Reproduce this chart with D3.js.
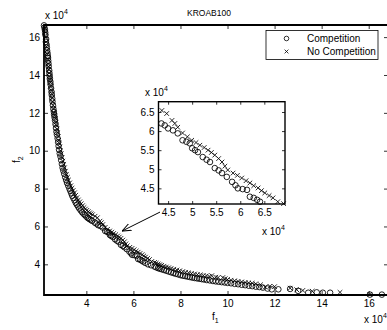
<!DOCTYPE html>
<html>
<head>
<meta charset="utf-8">
<script src="https://cdn.jsdelivr.net/npm/d3@7"></script>
<style>
  body { margin: 0; background: #fff; }
  svg { display: block; font-family: "Liberation Sans", Arial, sans-serif; }
</style>
</head>
<body>
<svg id="chart" width="387" height="330"></svg>
<script>
// values in units of 10^4
var competition = [
  [2.20,16.62],[2.24,16.38],[2.26,16.12],[2.29,15.9],[2.31,15.6],[2.33,15.3],[2.36,15.0],[2.38,14.75],
  [2.40,14.45],[2.43,14.1],[2.45,13.8],[2.48,13.5],[2.50,13.3],[2.53,12.95],[2.56,12.6],[2.60,12.2],
  [2.63,11.9],[2.67,11.6],[2.71,11.2],[2.75,10.85],[2.80,10.45],[2.84,10.05],[2.90,9.7],[2.96,9.3],
  [3.02,8.95],[3.10,8.6],[3.18,8.3],[3.28,8.0],[3.36,7.75],[3.45,7.5],[3.55,7.25],[3.65,7.05],
  [3.76,6.85],[3.88,6.67],[4.00,6.52],[4.12,6.4],[4.24,6.3],[4.36,6.2],[4.43,6.15],[4.50,6.07],
  [4.60,6.02],[4.70,5.94],[4.80,5.76],[4.88,5.72],[4.95,5.68],[5.00,5.55],[5.06,5.5],[5.12,5.45],
  [5.22,5.32],[5.30,5.25],[5.37,5.19],[5.47,5.03],[5.55,4.97],[5.62,4.9],[5.72,4.8],[5.83,4.67],
  [5.90,4.58],[5.95,4.5],[6.05,4.48],[6.14,4.46],[6.20,4.28],[6.28,4.25],[6.35,4.2],[6.41,4.15],
  [6.50,4.08],[6.62,4.0],[6.75,3.95],[6.90,3.88],[7.05,3.8],[7.20,3.74],[7.40,3.66],[7.60,3.58],
  [7.80,3.5],[8.00,3.43],[8.20,3.38],[8.40,3.33],[8.60,3.28],[8.80,3.24],[9.00,3.2],[9.25,3.15],
  [9.50,3.1],[9.75,3.06],[10.0,3.02],[10.3,2.97],[10.6,2.92],[10.9,2.87],[11.2,2.82],[11.5,2.77],
  [11.88,2.68],[12.16,2.68],[12.66,2.7],[13.0,2.6],[13.43,2.5],[13.79,2.52],[14.05,2.5],[14.36,2.5],
  [16.05,2.4],[16.56,2.4],
  [2.22,16.5],[2.25,16.25],[2.28,15.75],[2.32,15.45],[2.35,15.15],[2.37,14.9],[2.39,14.6],[2.42,14.25],
  [2.44,13.95],[2.47,13.65],[2.52,13.1],[2.55,12.75],[2.58,12.4],[2.62,12.05],[2.65,11.75],[2.69,11.4],
  [2.73,11.0],[2.78,10.65],[2.82,10.25],[2.87,9.85],[2.93,9.5],[2.99,9.1],[3.06,8.78],[3.14,8.45],
  [3.23,8.15],[3.32,7.88],[3.40,7.62],[3.50,7.38],[3.60,7.15],[3.70,6.95],[3.82,6.75],[3.94,6.6],
  [4.06,6.45],[4.18,6.35],
  [6.97,3.84],[7.12,3.77],[7.30,3.7],[7.50,3.62],[7.70,3.54],
  [7.90,3.47],[8.10,3.4],[8.30,3.35],[8.50,3.3],[8.70,3.26],[8.90,3.22],[9.12,3.17],[9.38,3.12],
  [9.62,3.08],[9.88,3.04],[10.15,3.0],[10.45,2.95],[10.75,2.9],[11.05,2.85],[11.35,2.8],[11.7,2.72]
];
var noCompetition = [
  [2.23,16.5],[2.27,16.0],[2.30,15.5],[2.34,15.1],[2.37,14.6],[2.40,14.3],[2.44,13.9],[2.47,13.6],
  [2.51,13.2],[2.55,12.8],[2.59,12.4],[2.63,12.0],[2.68,11.7],[2.72,11.35],[2.77,10.95],[2.82,10.55],
  [2.87,10.2],[2.93,9.85],[3.00,9.45],[3.07,9.1],[3.15,8.75],[3.24,8.45],[3.34,8.15],[3.44,7.9],
  [3.55,7.65],[3.66,7.4],[3.78,7.2],[3.90,7.0],[4.02,6.85],[4.14,6.72],[4.26,6.62],[4.37,6.54],
  [4.47,6.46],[4.58,6.28],[4.64,6.2],[4.70,6.1],[4.80,5.95],[4.90,5.85],[4.99,5.76],[5.08,5.7],
  [5.16,5.63],[5.25,5.57],[5.33,5.5],[5.40,5.44],[5.47,5.37],[5.55,5.28],[5.62,5.19],[5.68,5.08],
  [5.74,4.98],[5.85,4.9],[5.94,4.84],[6.03,4.77],[6.12,4.7],[6.20,4.64],[6.28,4.57],[6.37,4.51],
  [6.44,4.44],[6.51,4.38],[6.60,4.31],[6.68,4.25],[6.78,4.15],[6.90,4.1],[7.05,4.02],[7.20,3.95],
  [7.40,3.86],[7.60,3.78],[7.85,3.7],[8.10,3.62],[8.35,3.55],[8.60,3.49],[8.85,3.44],[9.10,3.39],
  [9.33,3.4],[9.60,3.3],[9.80,3.3],[10.0,3.2],[10.3,3.13],[10.6,3.07],[10.9,3.02],[11.2,2.97],
  [11.6,2.8],[12.0,2.82],[12.66,2.74],[12.94,2.66],[13.2,2.62],[13.6,2.58],[14.78,2.52],[16.05,2.41],
  [2.25,16.25],[2.29,15.75],[2.32,15.3],[2.36,14.85],[2.39,14.45],[2.42,14.1],[2.46,13.75],[2.49,13.4],
  [2.53,13.0],[2.57,12.6],[2.61,12.2],[2.66,11.85],[2.70,11.5],[2.75,11.15],[2.80,10.75],[2.85,10.4],
  [2.90,10.0],[2.97,9.65],[3.04,9.28],[3.11,8.92],[3.20,8.6],[3.29,8.3],[3.39,8.02],[3.50,7.78],
  [3.60,7.52],[3.72,7.3],[3.84,7.1],[3.96,6.92],[4.08,6.78],[4.20,6.67],
  [6.97,4.06],[7.12,3.98],[7.30,3.9],
  [7.50,3.82],[7.72,3.74],[7.97,3.66],[8.22,3.58],[8.47,3.52],[8.72,3.46],[8.97,3.41],[9.22,3.36],
  [9.50,3.32],[9.90,3.24],[10.15,3.16],[10.45,3.1],[10.75,3.04],[11.05,3.0],[11.4,2.92],[11.8,2.84]
];
var seriesNames = ["Competition", "No Competition"];
var mainTicks = [4, 6, 8, 10, 12, 14, 16];
var insetTicks = [4.5, 5, 5.5, 6, 6.5];
var insetTickLabels = ["4.5", "5", "5.5", "6", "6.5"];
var arrowFrom = [7.13, 6.76], arrowTo = [5.52, 5.76];

var svg = d3.select("#chart");

var x = d3.scaleLinear().domain([2.2, 16.82]).range([44, 388]);
var y = d3.scaleLinear().domain([2.38, 16.64]).range([295, 25]);

var xi = d3.scaleLinear().domain([4.3, 6.93]).range([158.5, 285]);
var yi = d3.scaleLinear().domain([4.09, 6.77]).range([204, 101.7]);

function xMark(sel, s) {
  sel.attr("d", "M" + (-s) + "," + (-s) + "L" + s + "," + s + "M" + (-s) + "," + s + "L" + s + "," + (-s));
}

function drawPoints(g, sx, sy, inside) {
  var c = competition.filter(inside), n = noCompetition.filter(inside);
  g.append("g").selectAll("circle").data(c).enter().append("circle")
      .attr("cx", function(d) { return sx(d[0]); })
      .attr("cy", function(d) { return sy(d[1]); })
      .attr("r", 2.8)
      .attr("fill", "none").attr("stroke", "#000").attr("stroke-width", 0.85);
  g.append("g").selectAll("path").data(n).enter().append("path")
      .attr("transform", function(d) { return "translate(" + sx(d[0]) + "," + sy(d[1]) + ")"; })
      .call(xMark, 2.3)
      .attr("fill", "none").attr("stroke", "#000").attr("stroke-width", 0.85);
}

function axes(g, sx, sy, ticksX, ticksY, fmt, tickLen) {
  var r = sx.range(), t = sy.range();
  g.append("g").attr("transform", "translate(0," + t[0] + ")")
      .call(d3.axisBottom(sx).tickValues(ticksX).tickFormat(fmt).tickSizeInner(-tickLen).tickSizeOuter(0).tickPadding(5));
  g.append("g").attr("transform", "translate(" + r[0] + ",0)")
      .call(d3.axisLeft(sy).tickValues(ticksY).tickFormat(fmt).tickSizeInner(-tickLen).tickSizeOuter(0).tickPadding(4));
  g.append("g").attr("transform", "translate(0," + t[1] + ")")
      .call(d3.axisTop(sx).tickValues(ticksX).tickFormat("").tickSizeInner(-tickLen).tickSizeOuter(0));
  g.append("g").attr("transform", "translate(" + r[1] + ",0)")
      .call(d3.axisRight(sy).tickValues(ticksY).tickFormat("").tickSizeInner(-tickLen).tickSizeOuter(0));
  g.selectAll(".domain").remove();
  g.selectAll(".tick line").attr("stroke", "#000").attr("stroke-width", 0.8);
  g.selectAll(".tick text").attr("font-size", 10).attr("fill", "#000")
      .attr("font-family", "Liberation Sans, Arial, sans-serif");
}

function exponent(g, px, py) {
  var t = g.append("text").attr("x", px).attr("y", py).attr("font-size", 10).attr("fill", "#000");
  t.append("tspan").text("x 10");
  t.append("tspan").attr("font-size", 7).attr("dy", -5).text("4");
}

// main axes
var main = svg.append("g");
drawPoints(main, x, y, function(d) { return d[0] >= 2.15 && d[0] <= 16.82; });
axes(main, x, y, mainTicks, mainTicks, d3.format("d"), 4);
main.append("path")
    .attr("d", "M388,25H44V295H388")
    .attr("fill", "none").attr("stroke", "#000").attr("stroke-width", 1.8);

exponent(svg, 45, 19);
exponent(svg, 364, 323);

svg.append("text").attr("x", 209).attr("y", 16).attr("text-anchor", "middle")
    .attr("font-size", 8.5).text("KROAB100");

var xl = svg.append("text").attr("x", 212).attr("y", 320).attr("font-size", 10);
xl.append("tspan").text("f");
xl.append("tspan").attr("font-size", 7).attr("dy", 3).text("1");

var yl = svg.append("text").attr("transform", "translate(20,163) rotate(-90)").attr("font-size", 10);
yl.append("tspan").text("f");
yl.append("tspan").attr("font-size", 7).attr("dy", 3).text("2");

// legend
var leg = svg.append("g");
leg.append("rect").attr("x", 266).attr("y", 30.5).attr("width", 112).attr("height", 29)
    .attr("fill", "#fff").attr("stroke", "#000").attr("stroke-width", 0.8);
leg.append("circle").attr("cx", 286.5).attr("cy", 38.5).attr("r", 2.3)
    .attr("fill", "none").attr("stroke", "#000").attr("stroke-width", 0.8);
leg.append("path").attr("transform", "translate(286.5,51.5)").call(xMark, 1.9)
    .attr("fill", "none").attr("stroke", "#000").attr("stroke-width", 0.8);
leg.selectAll("text.lab").data(seriesNames).enter().append("text")
    .attr("x", 307).attr("y", function(d, i) { return 42 + i * 13; })
    .attr("font-size", 10).text(function(d) { return d; });

// arrow
svg.append("defs").append("marker").attr("id", "ah")
    .attr("viewBox", "0 0 10 10").attr("refX", 10).attr("refY", 5)
    .attr("markerWidth", 9).attr("markerHeight", 9).attr("orient", "auto")
  .append("path").attr("d", "M0,1L10,5L0,9").attr("fill", "none").attr("stroke", "#000").attr("stroke-width", 1.2);
svg.append("line")
    .attr("x1", x(arrowFrom[0])).attr("y1", y(arrowFrom[1]))
    .attr("x2", x(arrowTo[0])).attr("y2", y(arrowTo[1]))
    .attr("stroke", "#000").attr("stroke-width", 1)
    .attr("marker-end", "url(#ah)");

// inset
var ins = svg.append("g");
ins.append("rect").attr("x", 158.5).attr("y", 101.7).attr("width", 126.5).attr("height", 102.3)
    .attr("fill", "#fff");
drawPoints(ins, xi, yi, function(d) { return d[0] >= 4.3 && d[0] <= 6.93 && d[1] >= 4.09 && d[1] <= 6.77; });
axes(ins, xi, yi, insetTicks, insetTicks, function(d, i) { return insetTickLabels[i]; }, 3);
ins.append("rect").attr("x", 158.5).attr("y", 101.7).attr("width", 126.5).attr("height", 102.3)
    .attr("fill", "none").attr("stroke", "#000").attr("stroke-width", 1.4);
exponent(svg, 145, 96);
exponent(svg, 262, 235);
</script>
</body>
</html>
